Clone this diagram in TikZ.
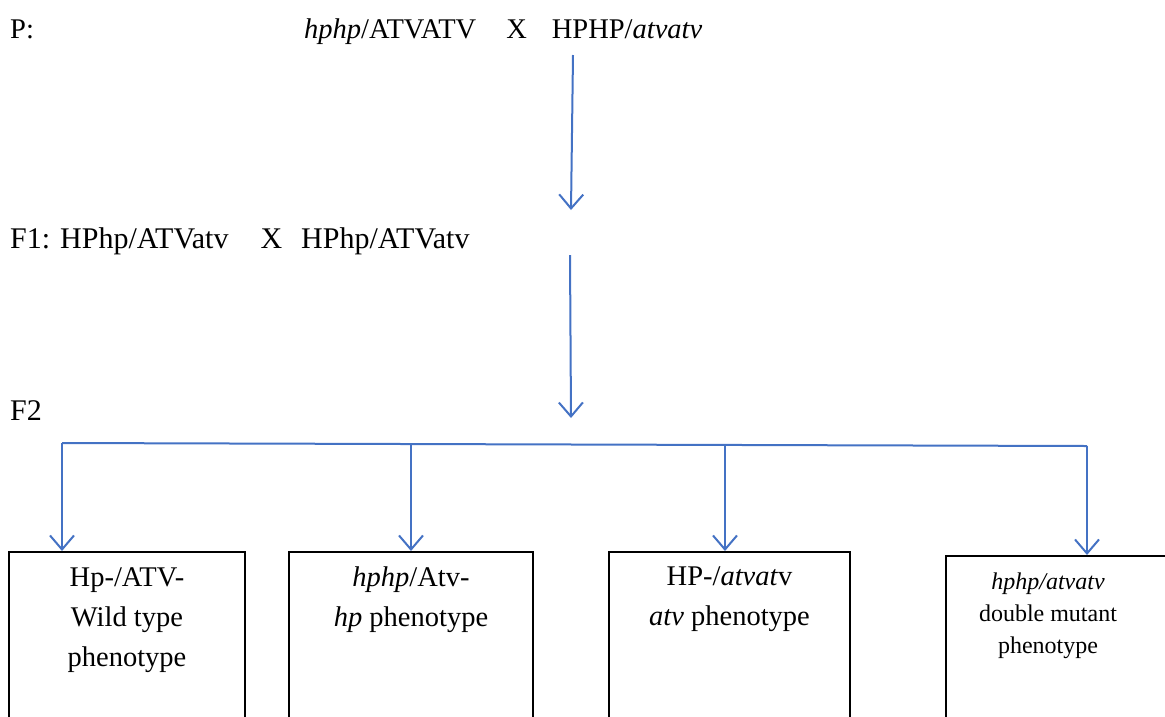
\documentclass[tikz,border=0pt]{standalone}
\usepackage{fontspec}
\setmainfont{Liberation Serif}
\usetikzlibrary{arrows.meta,positioning}

\definecolor{arrowblue}{RGB}{68,114,196}

\tikzset{
    gen/.style={font=\fontsize{28.5}{34}\selectfont, inner sep=0pt, anchor=base west},
    genbig/.style={font=\fontsize{30}{36}\selectfont, inner sep=0pt, anchor=base west},
    pbox/.style={draw=black, line width=1.6pt, minimum height=220pt, anchor=north, inner sep=0pt},
    ptext/.style={font=\fontsize{28.5}{40}\selectfont, align=center, anchor=north, inner sep=0pt},
    ptextsmall/.style={font=\fontsize{24}{32}\selectfont, align=center, anchor=north, inner sep=0pt},
    flow/.style={draw=arrowblue, line width=2pt, -{Straight Barb[length=14pt,width=24pt]}},
    bar/.style={draw=arrowblue, line width=2pt}
}

\begin{document}
\begin{tikzpicture}[x=1pt, y=-1pt]
    \useasboundingbox (0,0) rectangle (1165,716);
    \clip (0,0) rectangle (1165,716);

    % parents
    \node[gen] (plabel) at (10,38) {P:};
    \node[gen] (pcross) at (304,38) {\textit{hphp}/ATVATV\hspace{30pt}X\hspace{25pt}HPHP/\textit{atvatv}};
    \coordinate (p0) at (573,55);
    \coordinate (p1) at (571,210);
    \draw[flow] (p0) -- (p1);

    % F1
    \node[genbig] (fone) at (10,248) {F1: HPhp/ATVatv\hspace{32pt}X\hspace{19pt}HPhp/ATVatv};
    \coordinate (f0) at (570,255);
    \coordinate (f1) at (571,418);
    \draw[flow] (f0) -- (f1);

    % F2
    \node[genbig] (ftwo) at (10,420) {F2};
    \coordinate (barL) at (62,443);
    \coordinate (barR) at (1087,446);
    \draw[bar] (barL) -- (barR);

    % phenotype boxes
    \node[pbox, minimum width=236pt] (wt) at (127,551) {};
    \node[pbox, minimum width=244pt] (hp) at (411,551) {};
    \node[pbox, minimum width=241pt] (atv) at (729.5,551) {};
    \node[pbox, minimum width=260pt] (dm) at (1076,555) {};

    \node[ptext, below=16pt of wt.north] (wttext) {Hp-/ATV-\\Wild type\\phenotype};
    \node[ptext, below=16pt of hp.north] (hptext) {\textit{hphp}/Atv-\\\textit{hp} phenotype};
    \node[ptext, below=16pt of atv.north] (atvtext) {HP-/\textit{atvat}v\\\textit{atv} phenotype};
    \node[ptextsmall, below=18pt of dm.north, xshift=-28pt] (dmtext) {\textit{hphp/atvatv}\\double mutant\\phenotype};

    % drops
    \coordinate (d1) at (62,443);
    \coordinate (d2) at (411,443.5);
    \coordinate (d3) at (725,444.5);
    \coordinate (d4) at (1087,446);
    \draw[flow] (d1) -- (wt.north -| d1);
    \draw[flow] (d2) -- (hp.north -| d2);
    \draw[flow] (d3) -- (atv.north -| d3);
    \draw[flow] (d4) -- (dm.north -| d4);
\end{tikzpicture}
\end{document}
